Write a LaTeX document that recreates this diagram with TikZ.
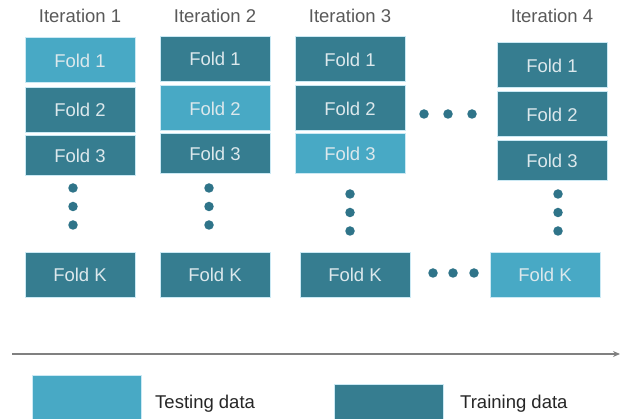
\documentclass[tikz,border=0pt]{standalone}
\usepackage{fontspec}
\setmainfont{Liberation Sans}
\usetikzlibrary{arrows.meta}
\definecolor{testc}{HTML}{48A9C5}
\definecolor{trainc}{HTML}{367D90}
\definecolor{edgec}{HTML}{CBE9F4}
\definecolor{dotc}{HTML}{2F7489}
\definecolor{headc}{HTML}{595959}
\definecolor{foldtxt}{HTML}{DCE8EC}
\definecolor{legtxt}{HTML}{262626}
\definecolor{arrc}{HTML}{808080}
\begin{document}
\begin{tikzpicture}[x=1pt,y=-1pt,
  fold/.style={draw=edgec, line width=1pt, minimum width=110pt, minimum height=45pt,
    inner sep=0pt, text=foldtxt, font=\fontsize{18.5}{20}\selectfont},
  test/.style={fold, fill=testc},
  train/.style={fold, fill=trainc},
  short/.style={minimum height=40pt},
  head/.style={text=headc, font=\fontsize{18.5}{20}\selectfont, inner sep=0pt},
  dotn/.style={circle, fill=dotc, minimum size=9.5pt, inner sep=0pt},
  leg/.style={text=legtxt, font=\fontsize{18.5}{20}\selectfont, inner sep=0pt, anchor=west}]
\useasboundingbox (0,0) rectangle (622,419);
% headers
\node[head] (h1) at (80,16) {Iteration 1};
\node[head] (h2) at (215,16) {Iteration 2};
\node[head] (h3) at (350,16) {Iteration 3};
\node[head] (h4) at (552,16) {Iteration 4};
% column 1
\node[test] (a1) at (80,60.5) {Fold 1};
\node[train] (a2) at (80,110) {Fold 2};
\node[train,short] (a3) at (80,155.5) {Fold 3};
\node[train] (aK) at (80,275) {Fold K};
% column 2
\node[train] (b1) at (215,59) {Fold 1};
\node[test] (b2) at (215,108.5) {Fold 2};
\node[train,short] (b3) at (215,154) {Fold 3};
\node[train] (bK) at (215,275) {Fold K};
% column 3
\node[train] (c1) at (350,59.5) {Fold 1};
\node[train] (c2) at (350,108.5) {Fold 2};
\node[test,short] (c3) at (350,154) {Fold 3};
\node[train] (cK) at (355,275) {Fold K};
% column 4
\node[train] (d1) at (552,65.5) {Fold 1};
\node[train] (d2) at (552,114.5) {Fold 2};
\node[train,short] (d3) at (552,160.5) {Fold 3};
\node[test] (dK) at (545,275) {Fold K};
% vertical dots
\foreach \n/\x/\y in {a/73/188, b/209/188, c/350/194, d/558/194}{
  \node[dotn] (\n v1) at (\x,\y) {};
  \node[dotn] (\n v2) at (\x,\y+18.5) {};
  \node[dotn] (\n v3) at (\x,\y+37) {};
}
% horizontal dots
\node[dotn] (u1) at (424,114) {};
\node[dotn] (u2) at (448,114) {};
\node[dotn] (u3) at (472,114) {};
\node[dotn] (l1) at (433,273) {};
\node[dotn] (l2) at (453,273) {};
\node[dotn] (l3) at (474,273) {};
% arrow
\coordinate (as) at (12,354);
\coordinate (ae) at (620,354);
\draw[arrc, line width=1.5pt, -{Stealth[length=7pt,width=6pt]}] (as) -- (ae);
% legend
\node[fold, fill=testc, minimum width=109pt, minimum height=50pt] (lt) at (86.5,401) {};
\node[leg] (ltt) at (155,404) {Testing data};
\node[fold, fill=trainc, minimum width=109pt, minimum height=50pt] (lr) at (388.5,410) {};
\node[leg] (lrt) at (460,404) {Training data};
\end{tikzpicture}
\end{document}
